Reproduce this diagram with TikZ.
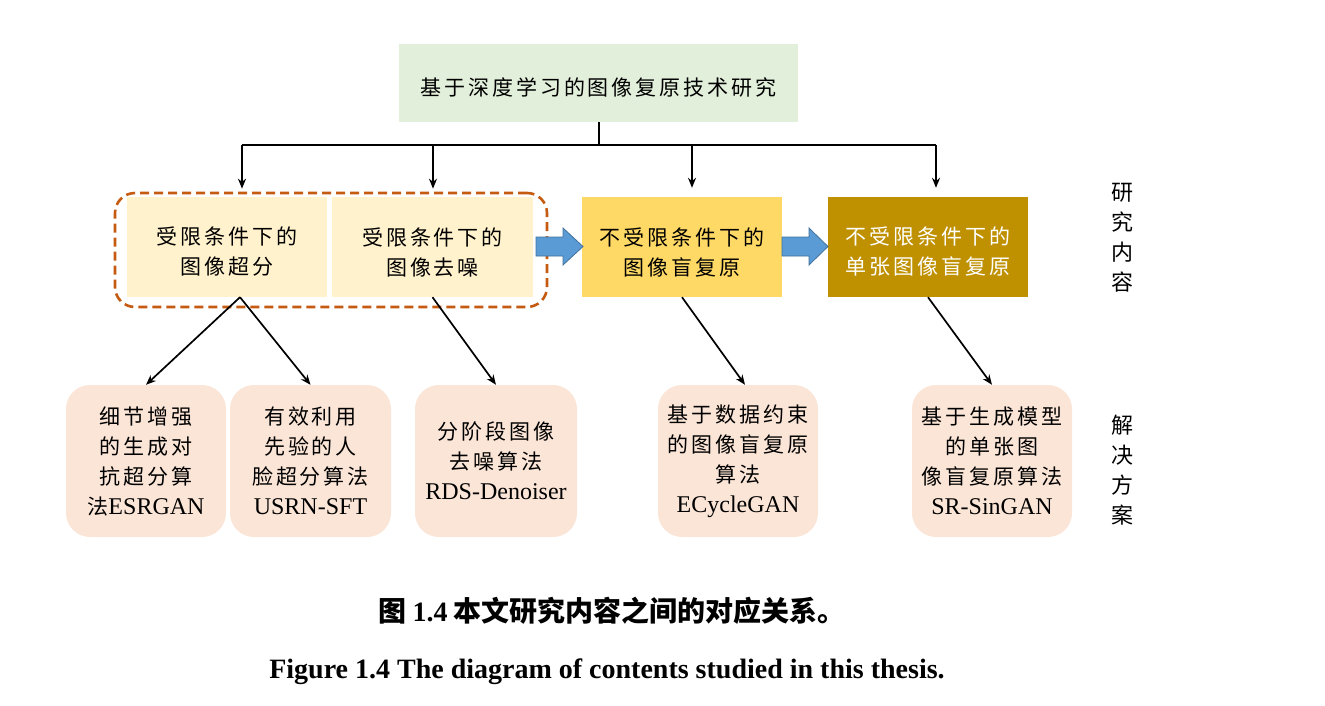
\documentclass[tikz,border=0pt]{standalone}
\usepackage{fontspec}
\setmainfont{Liberation Serif}
\newfontfamily\zhs[LetterSpace=14]{Noto Sans CJK SC}
\newfontfamily\zhp{Noto Sans CJK SC}
\usetikzlibrary{arrows.meta,calc}
\newcommand{\la}[1]{{\rmfamily\fontsize{24}{30}\selectfont #1}}
\definecolor{topgreen}{HTML}{E2EFDA}
\definecolor{lightyel}{HTML}{FFF2CC}
\definecolor{midyel}{HTML}{FFD966}
\definecolor{darkgold}{HTML}{BF9000}
\definecolor{peach}{HTML}{FBE5D6}
\definecolor{dashorange}{HTML}{C55A11}
\definecolor{arrowblue}{HTML}{5B9BD5}
\definecolor{arrowedge}{HTML}{41719C}
\tikzset{
  boxtext/.style={font=\zhs\fontsize{21}{30}\selectfont, align=center, inner sep=1pt},
  topbox/.style={boxtext, fill=topgreen, minimum width=399pt, minimum height=78pt},
  stagebox/.style={boxtext, minimum width=200pt, minimum height=100pt},
  solbox/.style={boxtext, fill=peach, rounded corners=24pt, minimum width=160pt, minimum height=152pt},
  grpbox/.style={draw=dashorange, line width=2.6pt, dash pattern=on 9pt off 5pt, rounded corners=20pt, minimum width=432pt, minimum height=114pt},
  conn/.style={line width=1.7pt, -{Stealth[length=10pt,width=8pt]}},
  plainline/.style={line width=2pt},
  blockarrow/.style={fill=arrowblue, draw=arrowedge, line width=0.8pt},
  sidelabel/.style={font=\zhp\fontsize{22}{30}\selectfont, align=center, inner sep=0pt},
  intext/.style={boxtext, yshift=-5pt},
}
\begin{document}
\begin{tikzpicture}[x=1pt,y=-1pt]
\useasboundingbox (0,0) rectangle (1325,706);

\node[topbox, label={[intext, yshift=1pt]center:基于深度学习的图像复原技术研究}] (top) at (598.5,83) {};

\node[grpbox] (grp) at (331,250) {};
\node[stagebox, fill=lightyel, label={[intext]center:{受限条件下的\\图像超分}}] (b1) at (227,247) {};
\node[stagebox, fill=lightyel, minimum width=201pt, label={[intext]center:{受限条件下的\\图像去噪}}] (b2) at (432.5,247) {};
\node[stagebox, fill=midyel, label={[intext]center:{不受限条件下的\\图像盲复原}}] (b3) at (682,247) {};
\node[stagebox, fill=darkgold, label={[intext, text=white]center:{不受限条件下的\\单张图像盲复原}}] (b4) at (928,247) {};

\draw[blockarrow] (536,237) -- (563,237) -- (563,228) -- (583,246.5) -- (563,265) -- (563,256) -- (536,256) -- cycle;
\draw[blockarrow] (782,237) -- (809,237) -- (809,228) -- (828,246.5) -- (809,265) -- (809,256) -- (782,256) -- cycle;

\node[solbox] (s1) at (146,461) {细节增强\\的生成对\\抗超分算\\法\la{ESRGAN}};
\node[solbox, minimum width=161pt] (s2) at (310.5,461) {有效利用\\先验的人\\脸超分算法\\\la{USRN-SFT}};
\node[solbox, minimum width=162pt] (s3) at (496,461) {分阶段图像\\去噪算法\\\la{RDS-Denoiser}};
\node[solbox] (s4) at (738,461) {基于数据约束\\的图像盲复原\\算法\\\la{ECycleGAN}};
\node[solbox] (s5) at (992,461) {基于生成模型\\的单张图\\像盲复原算法\\\la{SR-SinGAN}};

\node[sidelabel] (lab1) at (1122,238) {研\\究\\内\\容};
\node[sidelabel] (lab2) at (1122,470) {解\\决\\方\\案};

% tree connectors
\coordinate (h1) at (242,145);
\coordinate (h2) at (433,145);
\coordinate (h3) at (692,145);
\coordinate (h4) at (936,145);
\draw[plainline] (top.south) -- (top.south |- h1);
\draw[plainline] (h1) -- (h4);
\draw[conn, shorten >=3pt] (h1) -- (h1 |- grp.north);
\draw[conn, shorten >=3pt] (h2) -- (h2 |- grp.north);
\draw[conn, shorten >=9pt] (h3) -- (h3 |- b3.north);
\draw[conn, shorten >=9pt] (h4) -- (h4 |- b4.north);

\coordinate (d1) at ($(b1.south)+(13,0)$);
\draw[conn] (d1) -- (s1.north);
\draw[conn] (d1) -- (s2.north);
\draw[conn] (b2.south) -- (s3.north);
\draw[conn] (b3.south) -- ($(s4.north)+(7,0)$);
\draw[conn] (b4.south) -- (s5.north);

\node (cap1) at (612,611) {\zhp\bfseries\fontsize{28}{32}\selectfont 图 {\rmfamily\bfseries 1.4} 本文研究内容之间的对应关系。};
\node (cap2) at (607,672) {\rmfamily\bfseries\fontsize{28}{32}\selectfont Figure 1.4 The diagram of contents studied in this thesis.};
\end{tikzpicture}
\end{document}
